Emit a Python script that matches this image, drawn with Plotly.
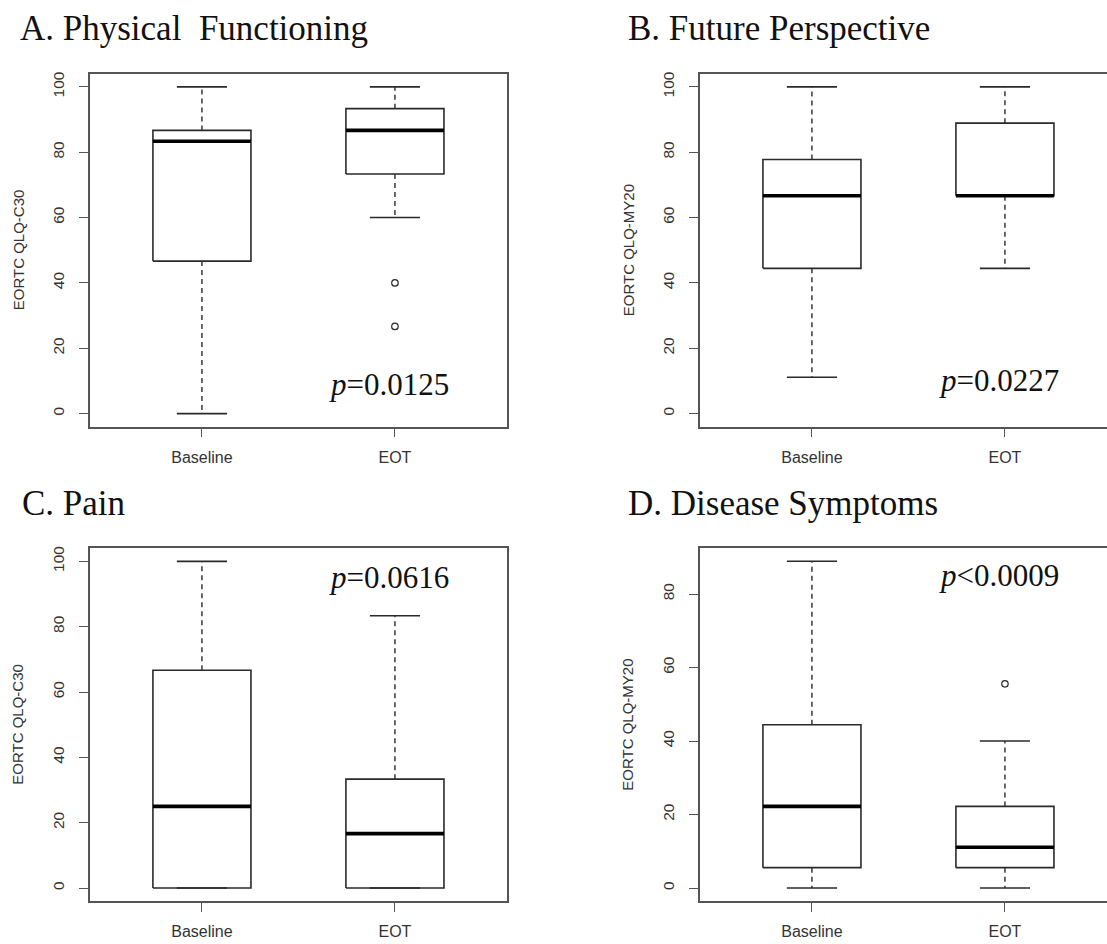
import plotly.graph_objects as go

# ---------------- data ----------------
categories = ["Baseline", "EOT"]
panel_titles = ["A. Physical&nbsp; Functioning", "B. Future Perspective", "C. Pain",
                "D. Disease&nbsp;Symptoms"]
y_titles = ["EORTC QLQ-C30", "EORTC QLQ-MY20", "EORTC QLQ-C30", "EORTC QLQ-MY20"]
p_labels = ["<i>p</i>=0.0125", "<i>p</i>=0.0227", "<i>p</i>=0.0616", "<i>p</i><0.0009"]
p_pos_y = [9, 10, 95, 85]

# Physical functioning
pf_low = [0, 60]
pf_q1 = [46.67, 73.33]
pf_med = [83.33, 86.67]
pf_q3 = [86.67, 93.33]
pf_high = [100, 100]
pf_out = [[], [40, 26.67]]

# Future perspective
fp_low = [11.11, 44.44]
fp_q1 = [44.44, 66.67]
fp_med = [66.67, 66.67]
fp_q3 = [77.78, 88.89]
fp_high = [100, 100]
fp_out = [[], []]

# Pain
pa_low = [0, 0]
pa_q1 = [0, 0]
pa_med = [25, 16.67]
pa_q3 = [66.67, 33.33]
pa_high = [100, 83.33]
pa_out = [[], []]

# Disease symptoms
ds_low = [0, 0]
ds_q1 = [5.56, 5.56]
ds_med = [22.22, 11.11]
ds_q3 = [44.44, 22.22]
ds_high = [88.89, 40]
ds_out = [[], [55.56]]

panels = [
    (pf_low, pf_q1, pf_med, pf_q3, pf_high, pf_out),
    (fp_low, fp_q1, fp_med, fp_q3, fp_high, fp_out),
    (pa_low, pa_q1, pa_med, pa_q3, pa_high, pa_out),
    (ds_low, ds_q1, ds_med, ds_q3, ds_high, ds_out),
]

# ---------------- layout geometry (pixels) ----------------
W, H = 1107, 944
PX_PER_UNIT_X = 193.0
frames = [  # left, right, top, bottom in px
    (90, 507, 71, 425),
    (700, 1107, 71, 425),
    (90, 507, 547, 901),
    (700, 1107, 547, 901),
]
y_ranges = [[-4, 104], [-4, 104], [-4, 104], [-3.556, 92.444]]
y_ticks = [[0, 20, 40, 60, 80, 100]] * 3 + [[0, 20, 40, 60, 80]]
title_pos = [(18, 26), (626, 26), (20, 502), (626, 502)]

BOX_HALF = 0.254
CAP_HALF = 0.13
LINE_COL = "#2a2a2a"
AX_COL = "#555555"

fig = go.Figure()
layout = dict(width=W, height=H, margin=dict(l=0, r=0, t=0, b=0),
              paper_bgcolor="white", plot_bgcolor="white", showlegend=False)

annotations = []
for i, (low, q1, med, q3, high, out) in enumerate(panels):
    n = i + 1
    xa = "x" if n == 1 else f"x{n}"
    ya = "y" if n == 1 else f"y{n}"
    l, r, t, b = frames[i]
    x0 = 0.42
    x1 = x0 + (r - l) / PX_PER_UNIT_X
    right_cut = (i % 2 == 1)
    layout["xaxis" if n == 1 else f"xaxis{n}"] = dict(
        domain=[l / W, r / W], range=[x0, x1], anchor=ya,
        tickvals=[1, 2], ticktext=categories, ticks="outside", ticklen=9,
        tickwidth=1.3, tickcolor=AX_COL, showline=True, linecolor=AX_COL,
        linewidth=1.5, mirror=True, showgrid=False, zeroline=False,
        tickfont=dict(family="Liberation Sans, Arial", size=16, color="#333"),
        ticklabelstandoff=6, fixedrange=True)
    layout["yaxis" if n == 1 else f"yaxis{n}"] = dict(
        domain=[1 - b / H, 1 - t / H], range=y_ranges[i], anchor=xa,
        tickvals=y_ticks[i], ticks="outside", ticklen=9, tickwidth=1.3,
        tickcolor=AX_COL, tickangle=-90, showline=True, linecolor=AX_COL,
        linewidth=1.5, mirror=(not right_cut), showgrid=False, zeroline=False,
        tickfont=dict(family="Liberation Sans, Arial", size=15.5, color="#333"),
        ticklabelstandoff=9, fixedrange=True)

    for g in range(2):
        xc = g + 1
        # box
        fig.add_trace(go.Scatter(
            x=[xc - BOX_HALF, xc + BOX_HALF, xc + BOX_HALF, xc - BOX_HALF, xc - BOX_HALF],
            y=[q1[g], q1[g], q3[g], q3[g], q1[g]], mode="lines",
            line=dict(color=LINE_COL, width=1.6), xaxis=xa, yaxis=ya, hoverinfo="skip"))
        # whiskers (dashed)
        fig.add_trace(go.Scatter(
            x=[xc, xc, None, xc, xc], y=[q3[g], high[g], None, q1[g], low[g]],
            mode="lines", line=dict(color=LINE_COL, width=1.4, dash="5px,4px"),
            xaxis=xa, yaxis=ya, hoverinfo="skip"))
        # caps
        fig.add_trace(go.Scatter(
            x=[xc - CAP_HALF, xc + CAP_HALF, None, xc - CAP_HALF, xc + CAP_HALF],
            y=[high[g], high[g], None, low[g], low[g]], mode="lines",
            line=dict(color=LINE_COL, width=1.6), xaxis=xa, yaxis=ya, hoverinfo="skip"))
        # median
        fig.add_trace(go.Scatter(
            x=[xc - BOX_HALF, xc + BOX_HALF], y=[med[g], med[g]], mode="lines",
            line=dict(color="#000000", width=3.6), xaxis=xa, yaxis=ya, hoverinfo="skip"))
        # outliers
        if out[g]:
            fig.add_trace(go.Scatter(
                x=[xc] * len(out[g]), y=out[g], mode="markers",
                marker=dict(symbol="circle-open", size=6.5, color=LINE_COL,
                            line=dict(width=1.2, color=LINE_COL)),
                xaxis=xa, yaxis=ya, hoverinfo="skip"))

    # p-value text
    annotations.append(dict(x=1.97, y=p_pos_y[i], xref=xa, yref=ya, text=p_labels[i],
                            showarrow=False, xanchor="center", yanchor="middle",
                            font=dict(family="Liberation Serif, Times New Roman", size=31,
                                      color="#111")))
    # y axis title
    annotations.append(dict(x=(l - 72) / W, y=1 - ((t + b) / 2) / H, xref="paper",
                            yref="paper", text=y_titles[i], textangle=-90, showarrow=False,
                            xanchor="center", yanchor="middle",
                            font=dict(family="Liberation Sans, Arial", size=15, color="#333")))
    # panel title
    tx, ty = title_pos[i]
    annotations.append(dict(x=tx / W, y=1 - ty / H, xref="paper", yref="paper",
                            text=panel_titles[i], showarrow=False, xanchor="left",
                            yanchor="middle",
                            font=dict(family="Liberation Serif, Times New Roman", size=35,
                                      color="#111")))

layout["annotations"] = annotations
fig.update_layout(**layout)

fig.write_html("out.html", config={"displayModeBar": False},
               post_script="document.body.style.margin='0';")
